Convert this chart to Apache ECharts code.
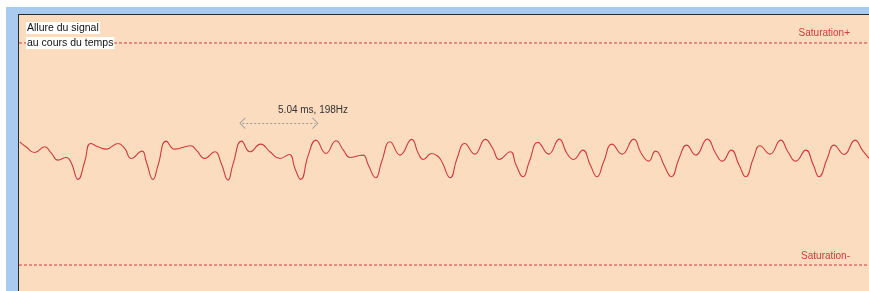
<!DOCTYPE html>
<html>
<head>
<meta charset="utf-8">
<title>Allure du signal</title>
<script src="https://cdn.jsdelivr.net/npm/echarts@6/dist/echarts.min.js"></script>
<style>
  body { margin: 0; background: #ffffff; }
  #frame {
    position: absolute; left: 6px; top: 7px; width: 863px; height: 284px;
    background: #a9cbef;
  }
  #chart {
    position: absolute; left: 18px; top: 14px; width: 851px; height: 277px;
    border-left: 1px solid #2a2a2a; border-top: 1px solid #2a2a2a;
    box-sizing: border-box;
  }
</style>
</head>
<body>
<div id="frame"></div>
<div id="chart"></div>
<script>
// temps en ms
const timeMs = [
  0.05, 0.48, 1.08, 1.77, 2.23, 2.69, 3.26, 3.61, 4.07, 4.53, 4.94, 5.45, 6.02, 6.83, 7.29, 7.74,
  8.48, 8.78, 9.24, 9.59, 10.16, 10.74, 11.84, 12.23, 12.81, 13.50, 13.95, 14.41, 14.76,
  15.36, 15.93, 16.67, 17.31, 18.00, 18.64, 19.03, 19.43, 19.95, 20.48, 21.17, 21.86, 22.37,
  22.83, 23.40, 23.74, 24.09, 24.60, 25.01, 25.59, 26.28, 27.08, 27.54, 27.88, 28.46, 28.92,
  29.17, 29.74, 30.21, 30.74, 31.43, 32.16, 32.67, 33.12, 33.88, 34.28, 34.76, 35.19, 35.79,
  36.53, 37.26, 37.79, 38.25, 38.88, 39.40, 39.86, 40.32, 40.90, 41.59, 42.39, 42.92, 43.43,
  43.90, 44.14, 44.48, 44.99, 45.52, 46.05, 46.67, 47.47, 48.05, 48.50, 49.12, 49.66, 50.12,
  50.64, 51.10, 51.79, 52.53, 53.03, 53.57, 54.26, 54.78, 55.17, 55.74, 56.21, 56.90, 57.66,
  58.16, 58.62
];
// amplitude (saturation = ±1)
const signal = [
  0.110, 0.065, 0.014, 0.065, 0.008, -0.055, -0.031, -0.082, -0.229, -0.070, 0.095, 0.065, 0.044, 0.095, 0.050, -0.040,
  0.026, -0.070, -0.229, -0.100, 0.116, 0.044, 0.074, 0.035, -0.040, 0.020, -0.085, -0.235, -0.091,
  0.116, 0.020, 0.089, 0.020, -0.040, -0.004, -0.130, -0.229, -0.010, 0.125, 0.005, 0.119, 0.035,
  -0.031, -0.016, -0.010, -0.100, -0.214, -0.070, 0.110, -0.010, 0.132, 0.005, -0.049, 0.005, -0.025,
  -0.073, -0.214, -0.040, 0.095, -0.001, 0.132, 0.050, -0.049, 0.020, -0.100, -0.205, -0.070, 0.105,
  -0.001, 0.134, 0.005, -0.049, 0.035, -0.100, -0.205, -0.070, 0.089, -0.001, 0.134, 0.005, -0.064,
  0.026, 0.005, -0.100, -0.205, -0.040, 0.080, -0.010, 0.134, 0.005, -0.064, 0.035, -0.100, -0.205,
  -0.040, 0.074, -0.001, 0.125, 0.020, -0.064, 0.035, -0.100, -0.205, -0.040, 0.080, -0.004, 0.125,
  0.035, -0.040
];
const tMin = 0;
const tMax = 58.62;
const satLevels = [1, -1];
const satLabels = ["Saturation+", "Saturation-"];
const titleLines = ["Allure du signal", "au cours du temps"];
// mesure de période
const periodStart = 15.4;
const periodMs = 5.04;
const freqHz = 198;
const measureLevel = 0.277;
const measureText = [17.52, 0.396];

const chart = echarts.init(document.getElementById("chart"));

const chevron = "path://M0,10 L5,0 L10,10 L9,10 L5,2 L1,10 Z";
const satColor = "#d03c3c";

// une série pointillée par niveau de saturation, libellé au bout à droite
const satSeries = satLevels.map((v, i) => ({
  type: "line",
  data: [[tMin, v], [tMax, v]],
  symbol: "none",
  silent: true,
  lineStyle: { color: satColor, type: [3, 2], width: 1 },
  markLine: {
    silent: true,
    symbol: "none",
    lineStyle: { color: "rgba(0,0,0,0)", width: 1 },
    label: {
      show: true,
      formatter: satLabels[i],
      position: "insideEndTop",
      distance: 0,
      padding: [0, 19, i === 0 ? 5 : 4, 0],
      color: satColor,
      fontFamily: "Liberation Sans",
      fontSize: 10,
    },
    data: [{ yAxis: v }],
  },
}));

const option = {
  backgroundColor: "#fbdcbf",
  animation: false,
  title: titleLines.map((t, i) => ({
    text: t,
    left: 7,
    top: 7 + i * 15,
    padding: [1, 1, 0, 1],
    backgroundColor: "#ffffff",
    textStyle: { fontFamily: "Liberation Sans", fontSize: 10.5, fontWeight: "normal", color: "#111" },
  })),
  grid: { left: 0, right: 0, top: 0, bottom: 0 },
  xAxis: {
    type: "value",
    min: tMin,
    max: tMax,
    show: false,
  },
  yAxis: {
    type: "value",
    min: -1.234,
    max: 1.252,
    show: false,
  },
  series: [
    ...satSeries,
    {
      type: "line",
      data: timeMs.map((t, i) => [t, signal[i]]),
      smooth: 0.5,
      symbol: "none",
      lineStyle: { color: "#d2393c", width: 1.1 },
      markLine: {
        silent: true,
        symbol: chevron,
        symbolSize: [12, 6],
        itemStyle: { color: "#9a9a9a" },
        lineStyle: { color: "#9a9a9a", type: [2, 2], width: 1 },
        label: { show: false },
        data: [
          [
            { coord: [periodStart, measureLevel] },
            { coord: [periodStart + periodMs, measureLevel] },
          ],
        ],
      },
      markPoint: {
        silent: true,
        data: [
          {
            coord: measureText,
            symbolSize: 0,
            label: {
              show: true,
              position: "right",
              formatter: periodMs.toFixed(2) + " ms, " + freqHz + "Hz",
              color: "#333",
              fontFamily: "Liberation Sans",
              fontSize: 10,
            },
          },
        ],
      },
    },
  ],
};

chart.setOption(option);
</script>
</body>
</html>
